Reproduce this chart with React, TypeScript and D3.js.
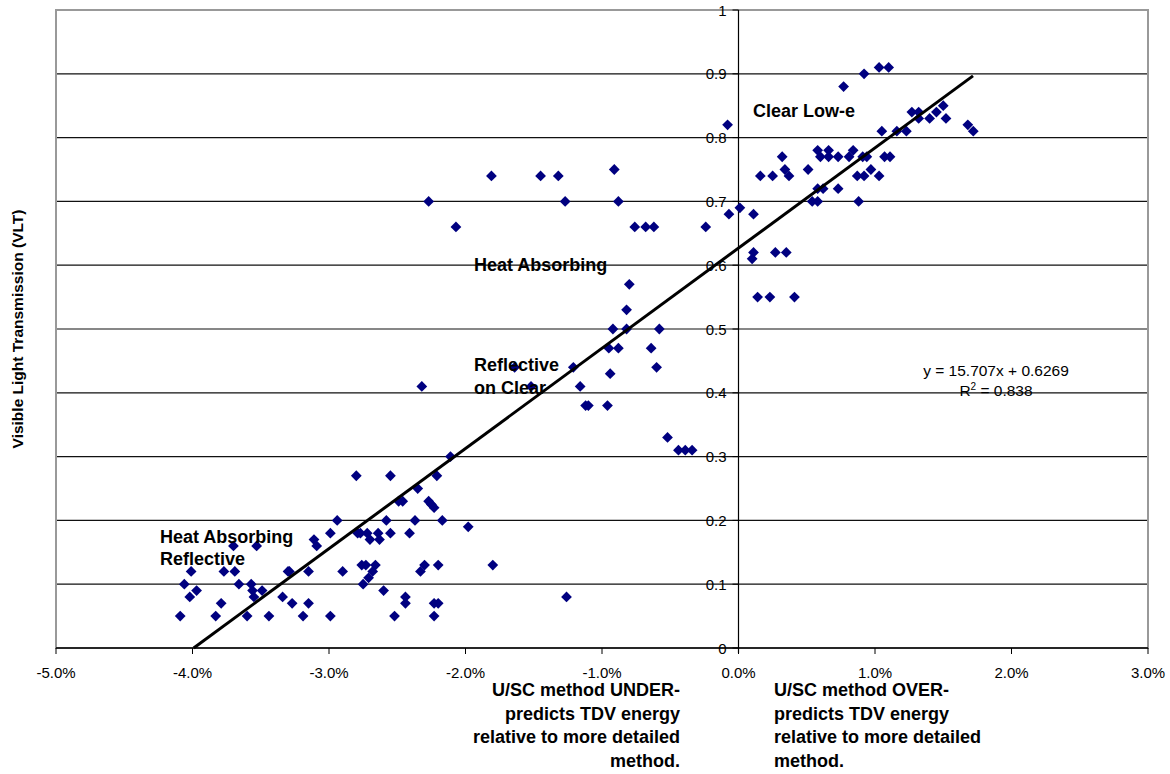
import React from 'react';
import * as d3 from 'd3';

// percent difference in TDV energy (U/SC vs detailed method)
const tdvDiff = [
	-4.09, -4.06, -4.02, -4.01, -3.97, -3.83, -3.79, -3.77, -3.70, -3.69, -3.66, -3.60, -3.57, -3.56, -3.55, -3.53,
	-3.49, -3.44, -3.34, -3.30, -3.29, -3.27, -3.19, -3.15, -3.15, -3.11, -3.09, -2.99, -2.99, -2.94, -2.90,
	-2.11, -2.80, -2.55, -2.21, -2.35, -2.49, -2.46, -2.27, -2.25, -2.23, -2.58, -2.37, -2.17, -1.98, -2.79,
	-2.77, -2.72, -2.70, -2.64, -2.63, -2.55, -2.41, -2.76, -2.73, -2.66, -2.68, -2.71, -2.75, -2.60, -2.44,
	-2.44, -2.52, -2.30, -2.33, -2.20, -2.23, -2.20, -2.23, -1.80, -2.32, -1.26,
	-1.81, -1.45, -1.32, -0.91, -2.27, -1.27, -0.88, -2.07, -0.76, -0.68, -0.62, -0.80, -0.82, -0.92, -0.82,
	-0.95, -0.88, -0.64, -1.21, -1.64, -1.52, -1.16, -0.94, -1.12, -1.10, -0.96, -0.58, -0.60, -0.52, -0.44,
	-0.39, -0.34,
	-0.24, -0.08, -0.07, 0.01, 0.11, 0.10, 0.11, 0.27, 0.35, 0.14, 0.23, 0.41, 0.16, 0.25, 0.32, 0.34, 0.37,
	0.51, 0.54, 0.58, 0.58, 0.62, 0.58, 0.60, 0.66, 0.66, 0.73, 0.73, 0.77, 0.81, 0.84, 0.88, 0.87, 0.91, 0.94,
	0.92, 0.92, 0.97, 1.03, 1.10, 1.03, 1.05, 1.07, 1.11, 1.16, 1.23, 1.27, 1.32, 1.32, 1.40, 1.45, 1.50, 1.52,
	1.68, 1.72
];

// visible light transmission
const vlt = [
	0.05, 0.10, 0.08, 0.12, 0.09, 0.05, 0.07, 0.12, 0.16, 0.12, 0.10, 0.05, 0.10, 0.09, 0.08, 0.16,
	0.09, 0.05, 0.08, 0.12, 0.12, 0.07, 0.05, 0.07, 0.12, 0.17, 0.16, 0.05, 0.18, 0.20, 0.12,
	0.30, 0.27, 0.27, 0.27, 0.25, 0.23, 0.23, 0.23, 0.225, 0.22, 0.20, 0.20, 0.20, 0.19, 0.18,
	0.18, 0.18, 0.17, 0.18, 0.17, 0.18, 0.18, 0.13, 0.13, 0.13, 0.12, 0.11, 0.10, 0.09, 0.08,
	0.07, 0.05, 0.13, 0.12, 0.13, 0.07, 0.07, 0.05, 0.13, 0.41, 0.08,
	0.74, 0.74, 0.74, 0.75, 0.70, 0.70, 0.70, 0.66, 0.66, 0.66, 0.66, 0.57, 0.53, 0.50, 0.50,
	0.47, 0.47, 0.47, 0.44, 0.44, 0.41, 0.41, 0.43, 0.38, 0.38, 0.38, 0.50, 0.44, 0.33, 0.31,
	0.31, 0.31,
	0.66, 0.82, 0.68, 0.69, 0.68, 0.61, 0.62, 0.62, 0.62, 0.55, 0.55, 0.55, 0.74, 0.74, 0.77, 0.75, 0.74,
	0.75, 0.70, 0.70, 0.72, 0.72, 0.78, 0.77, 0.78, 0.77, 0.77, 0.72, 0.88, 0.77, 0.78, 0.70, 0.74, 0.77, 0.77,
	0.90, 0.74, 0.75, 0.91, 0.91, 0.74, 0.81, 0.77, 0.77, 0.81, 0.81, 0.84, 0.84, 0.83, 0.83, 0.84, 0.85, 0.83,
	0.82, 0.81
];

const xTicks = [-5, -4, -3, -2, -1, 0, 1, 2, 3];
const yTicks = [0, 0.1, 0.2, 0.3, 0.4, 0.5, 0.6, 0.7, 0.8, 0.9, 1];

const slope = 15.707;
const intercept = 0.6269;
const fitRange = [-0.6269 / 15.707 * 100, 1.718];

const underNote = ["U/SC method UNDER-", "predicts TDV energy", "relative to more detailed", "method."];
const overNote = ["U/SC method OVER-", "predicts TDV energy", "relative to more detailed", "method."];

const font = "'Liberation Sans', Arial, sans-serif";
const navy = "#000080";

export default function App() {
	const left = 56, right = 1148, top = 10, bottom = 648;

	const x = d3.scaleLinear().domain([-5, 3]).range([left, right]);
	const y = d3.scaleLinear().domain([0, 1]).range([bottom, top]);

	const diamond = d3.symbol(d3.symbolSquare, 58)();
	const fitLine = d3.line<number>()
		.x(d => x(d))
		.y(d => y(slope * d / 100 + intercept));

	const points = tdvDiff.map((d, i) => ({ x: d, y: vlt[i] }));

	return (
		<svg width={1170} height={774}
			style={{ position: 'absolute', left: 0, top: 0, background: '#fff' }}
			fontFamily={font}>
			{/* grid */}
			<g className="grid">
				{yTicks.filter(t => t > 0).map(t => (
					<line key={t} x1={left} x2={right} y1={y(t)} y2={y(t)}
						stroke={t === 1 ? "#999" : "#111"} strokeWidth={1.2} />
				))}
			</g>
			{/* frame */}
			<rect x={left} y={top} width={right - left} height={bottom - top}
				fill="none" stroke="#999" strokeWidth={2} />
			{/* axes */}
			<g className="axis">
				<line x1={left} x2={right} y1={bottom} y2={bottom} stroke="#000" strokeWidth={1.5} />
				<line x1={x(0)} x2={x(0)} y1={top} y2={bottom + 5} stroke="#000" strokeWidth={1.2} />
				{xTicks.map(t => (
					<g key={t}>
						<line x1={x(t)} x2={x(t)} y1={bottom} y2={bottom + 6} stroke="#000" />
						<text x={x(t)} y={678} textAnchor="middle" fontSize={15}>{t.toFixed(1) + "%"}</text>
					</g>
				))}
				{yTicks.map(t => (
					<g key={t}>
						<line x1={x(0) - 6} x2={x(0)} y1={y(t)} y2={y(t)} stroke="#000" />
						<text x={x(0) - 12} y={y(t) + 5.5} textAnchor="end" fontSize={15}>{String(t)}</text>
					</g>
				))}
			</g>
			{/* points */}
			<g className="points">
				{points.map((p, i) => (
					<path key={i} d={diamond!}
						transform={`translate(${x(p.x)},${y(p.y)}) rotate(45)`}
						fill={navy} />
				))}
			</g>
			{/* trend line */}
			<path d={fitLine(fitRange)!} stroke="#000" strokeWidth={3} fill="none" />
			{/* labels */}
			<g fontWeight="bold" fontSize={18}>
				<text x={753} y={117}>Clear Low-e</text>
				<text x={474} y={271}>Heat Absorbing</text>
				<text x={474} y={371}>Reflective</text>
				<text x={474} y={394}>on Clear</text>
				<text x={160} y={543}>Heat Absorbing</text>
				<text x={160} y={565}>Reflective</text>
			</g>
			<g fontSize={15.5} textAnchor="middle">
				<text x={996} y={376}>y = 15.707x + 0.6269</text>
				<text x={996} y={396}>R<tspan fontSize={10} dy={-6}>2</tspan><tspan dy={6}> = 0.838</tspan></text>
			</g>
			<text transform={`translate(23,${(top + bottom) / 2})rotate(-90)`}
				textAnchor="middle" fontWeight="bold" fontSize={15.5}>
				Visible Light Transmission (VLT)
			</text>
			<g fontWeight="bold" fontSize={18}>
				{underNote.map((s, i) => (
					<text key={i} x={680} y={696 + i * 23.7} textAnchor="end">{s}</text>
				))}
				{overNote.map((s, i) => (
					<text key={i} x={774} y={696 + i * 23.7}>{s}</text>
				))}
			</g>
		</svg>
	);
}
